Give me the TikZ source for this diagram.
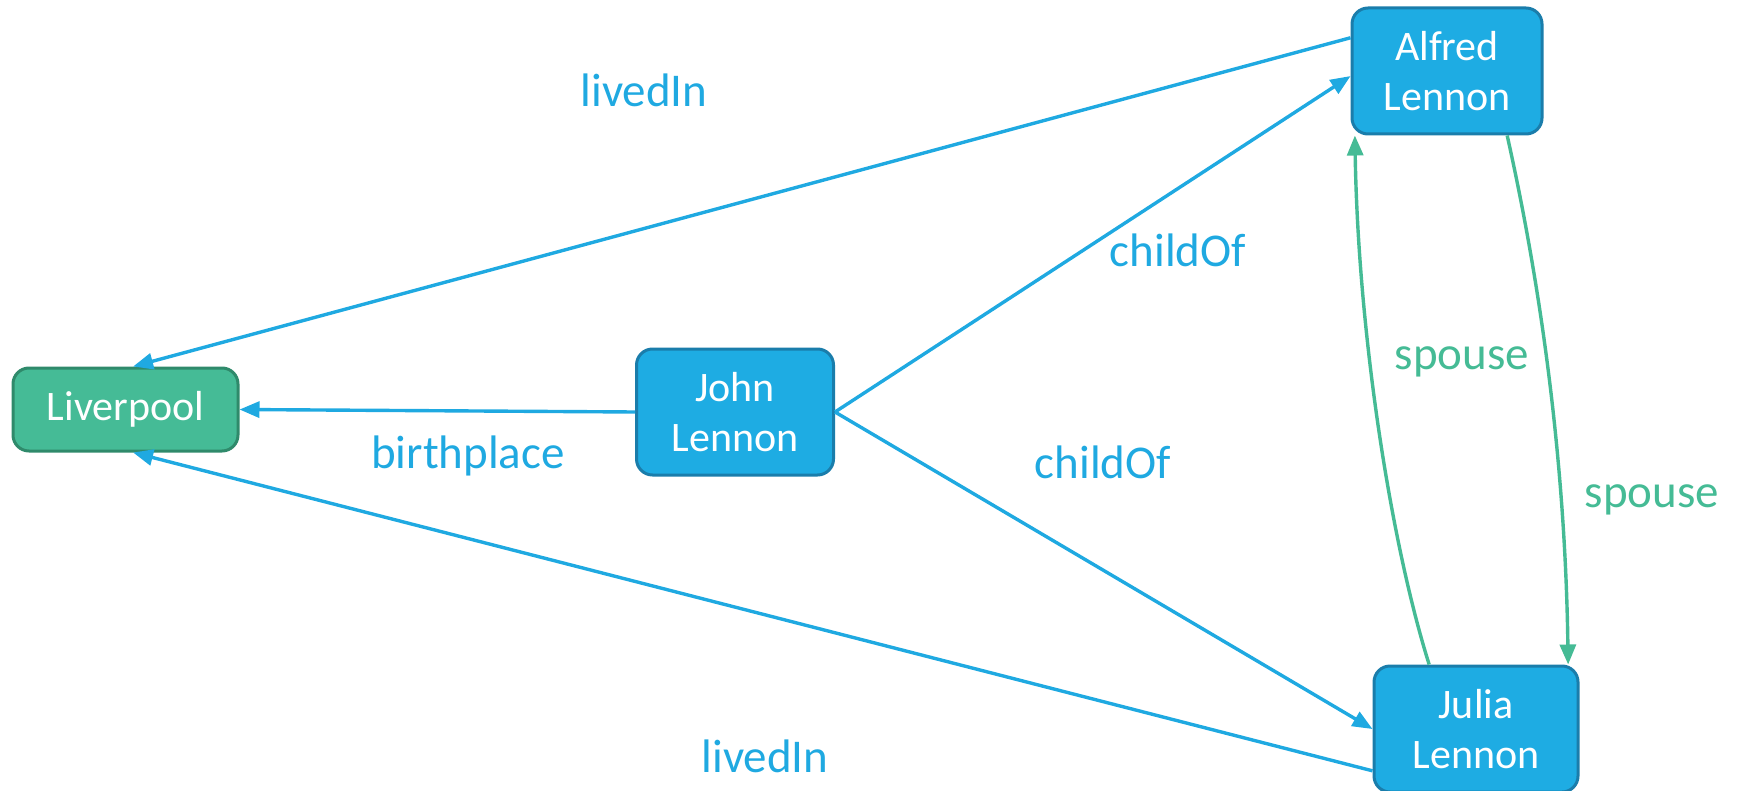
\documentclass[tikz,border=0pt]{standalone}
\usepackage{fontspec}
\setmainfont{Carlito}
\usetikzlibrary{arrows.meta}
\definecolor{nodeblue}{HTML}{1EACE3}
\definecolor{nodeblueborder}{HTML}{1A7DAB}
\definecolor{nodegreen}{HTML}{45BB96}
\definecolor{nodegreenborder}{HTML}{2F8A6B}
\definecolor{edgeblue}{HTML}{1FA9E1}
\definecolor{edgegreen}{HTML}{45BB95}
\tikzset{
  entity/.style={draw=nodeblueborder, fill=nodeblue, line width=1.5pt, rounded corners=8pt,
    text=white, align=center, inner sep=0pt, minimum height=63pt,
    font=\fontsize{21}{25}\selectfont},
  place/.style={draw=nodegreenborder, fill=nodegreen, line width=1.5pt, rounded corners=8pt,
    text=white, align=center, inner sep=0pt, minimum height=41.5pt, minimum width=112.5pt,
    font=\fontsize{21}{25}\selectfont},
  bluearrow/.style={draw=edgeblue, line width=1.7pt, -{Triangle[length=10pt,width=8pt]}},
  greenarrow/.style={draw=edgegreen, line width=1.7pt, -{Triangle[length=10pt,width=8pt]}},
  bluelabel/.style={text=edgeblue, font=\fontsize{23.5}{28}\selectfont, inner sep=0pt},
  greenlabel/.style={text=edgegreen, font=\fontsize{23.5}{28}\selectfont, inner sep=0pt},
}
\begin{document}
\begin{tikzpicture}[x=0.5pt, y=-0.5pt]
\useasboundingbox (0,0) rectangle (1743,791);
\node[place] (liverpool) at (125.5,409.5) {Liverpool};
\node[entity, minimum width=98.5pt] (john) at (735,412) {John\\Lennon};
\node[entity, minimum width=95pt] (alfred) at (1447,71) {Alfred\\Lennon};
\node[entity, minimum width=102pt] (julia) at (1476,729) {Julia\\Lennon};

\draw[bluearrow] (alfred.161) -- (liverpool.80);
\draw[bluearrow] (julia.202) -- (liverpool.280);
\draw[bluearrow] (john.west) -- (liverpool.east);
\draw[bluearrow] (john.east) -- (alfred.183);
\draw[bluearrow] (john.east) -- (julia.west);
\draw[greenarrow] (alfred.-47) .. controls (1535,260) and (1565,440) .. (julia.35);
\draw[greenarrow] (julia.126) .. controls (1390,540) and (1358,330) .. (alfred.215);

\node[bluelabel] (l1) at (644,90) {livedIn};
\node[bluelabel] (l2) at (765,756) {livedIn};
\node[bluelabel] (l3) at (468,456) {birthplace};
\node[bluelabel] (l4) at (1178,250) {childOf};
\node[bluelabel] (l5) at (1103,462) {childOf};
\node[greenlabel] (l6) at (1462,362) {spouse};
\node[greenlabel] (l7) at (1652,500) {spouse};
\end{tikzpicture}
\end{document}
